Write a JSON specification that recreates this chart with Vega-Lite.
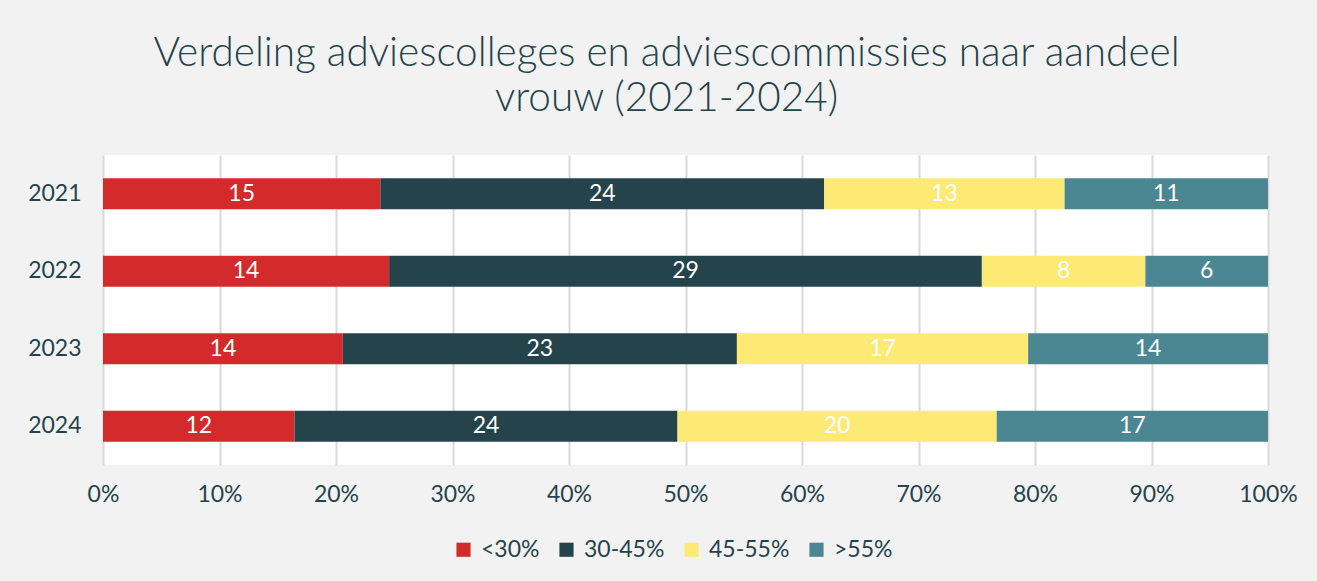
{
  "$schema": "https://vega.github.io/schema/vega-lite/v6.json",
  "width": 1165,
  "height": 310,
  "autosize": {"type": "none"},
  "padding": {"left": 103, "top": 155, "right": 49, "bottom": 116},
  "background": "#f2f2f2",
  "title": {
    "text": ["Verdeling adviescolleges en adviescommissies naar aandeel", "vrouw (2021-2024)"],
    "anchor": "middle",
    "dx": -19,
    "offset": 36,
    "font": "Lato",
    "fontSize": 40.5,
    "fontWeight": 300,
    "color": "#25434c",
    "lineHeight": 45
  },
  "config": {
    "view": {"fill": "white", "stroke": null},
    "font": "Lato"
  },
  "data": {
    "values": [
      {"jaar": "2021", "klasse": "<30%", "k": 1, "aantal": 15},
      {"jaar": "2021", "klasse": "30-45%", "k": 2, "aantal": 24},
      {"jaar": "2021", "klasse": "45-55%", "k": 3, "aantal": 13},
      {"jaar": "2021", "klasse": ">55%", "k": 4, "aantal": 11},
      {"jaar": "2022", "klasse": "<30%", "k": 1, "aantal": 14},
      {"jaar": "2022", "klasse": "30-45%", "k": 2, "aantal": 29},
      {"jaar": "2022", "klasse": "45-55%", "k": 3, "aantal": 8},
      {"jaar": "2022", "klasse": ">55%", "k": 4, "aantal": 6},
      {"jaar": "2023", "klasse": "<30%", "k": 1, "aantal": 14},
      {"jaar": "2023", "klasse": "30-45%", "k": 2, "aantal": 23},
      {"jaar": "2023", "klasse": "45-55%", "k": 3, "aantal": 17},
      {"jaar": "2023", "klasse": ">55%", "k": 4, "aantal": 14},
      {"jaar": "2024", "klasse": "<30%", "k": 1, "aantal": 12},
      {"jaar": "2024", "klasse": "30-45%", "k": 2, "aantal": 24},
      {"jaar": "2024", "klasse": "45-55%", "k": 3, "aantal": 20},
      {"jaar": "2024", "klasse": ">55%", "k": 4, "aantal": 17}
    ]
  },
  "encoding": {
    "y": {
      "field": "jaar",
      "type": "nominal",
      "title": null,
      "scale": {"paddingInner": 0.6, "paddingOuter": 0.3},
      "axis": {
        "domain": false,
        "ticks": false,
        "labelFontSize": 23,
        "labelFontWeight": "normal",
        "labelColor": "#25434c",
        "labelPadding": 22,
        "labelFont": "Lato"
      }
    },
    "x": {
      "field": "aantal",
      "type": "quantitative",
      "stack": "normalize",
      "title": null,
      "scale": {"domain": [0, 1], "nice": false},
      "axis": {
        "format": ".0%",
        "values": [0, 0.1, 0.2, 0.3, 0.4, 0.5, 0.6, 0.7, 0.8, 0.9, 1],
        "domain": false,
        "ticks": false,
        "grid": true,
        "gridColor": "#d9d9d9",
        "gridWidth": 2,
        "labelFlush": false,
        "labelOverlap": false,
        "labelFontSize": 23,
        "labelFontWeight": "normal",
        "labelColor": "#25434c",
        "labelPadding": 18,
        "labelFont": "Lato"
      }
    },
    "order": {"field": "k", "type": "quantitative"}
  },
  "layer": [
    {
      "mark": {"type": "bar"},
      "encoding": {
        "color": {
          "field": "klasse",
          "type": "nominal",
          "scale": {
            "domain": ["<30%", "30-45%", "45-55%", ">55%"],
            "range": ["#d32b2b", "#25434a", "#fdea74", "#4a8793"]
          },
          "legend": {
            "title": null,
            "orient": "none",
            "legendX": 349,
            "legendY": 383,
            "direction": "horizontal",
            "symbolType": "square",
            "symbolSize": 200,
            "symbolStrokeWidth": 0,
            "labelFontSize": 23,
            "labelFontWeight": "normal",
            "labelColor": "#25434c",
            "labelFont": "Lato",
            "columnPadding": 15,
            "labelOffset": 6
          }
        }
      }
    },
    {
      "mark": {"type": "text", "color": "white", "fontSize": 23, "font": "Lato"},
      "encoding": {
        "x": {"field": "aantal", "type": "quantitative", "stack": "normalize", "bandPosition": 0.5},
        "text": {"field": "aantal", "type": "quantitative"}
      }
    }
  ]
}
